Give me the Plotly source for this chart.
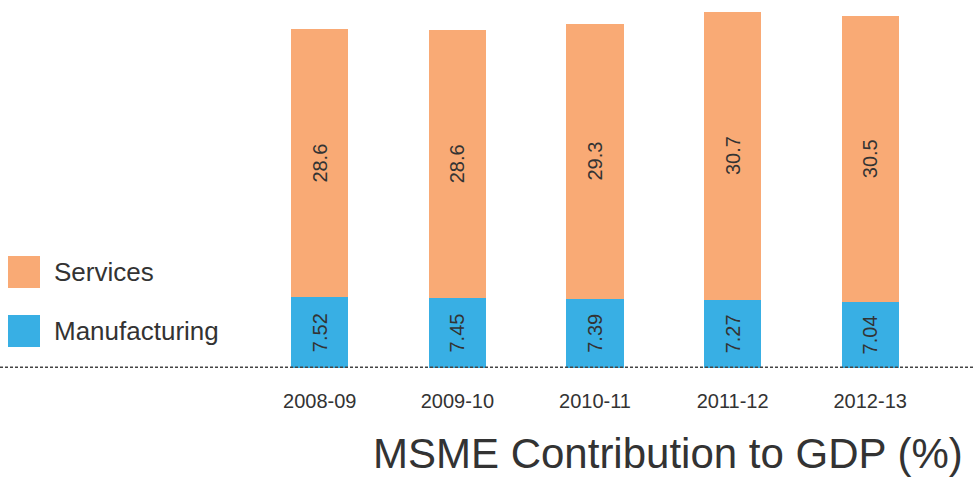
import plotly.graph_objects as go

years = ["2008-09", "2009-10", "2010-11", "2011-12", "2012-13"]
manufacturing = [7.52, 7.45, 7.39, 7.27, 7.04]
services = [28.6, 28.6, 29.3, 30.7, 30.5]

ORANGE = "#F9AA75"
BLUE = "#38AFE4"
TEXT = "#333333"
FONT = "Liberation Sans, Arial, Helvetica, sans-serif"

fig = go.Figure()
fig.add_trace(
    go.Bar(
        x=years,
        y=manufacturing,
        name="Manufacturing",
        marker=dict(color=BLUE, line=dict(width=0)),
        text=[f"{v:.2f}" for v in manufacturing],
        textposition="inside",
        insidetextanchor="middle",
        textangle=-90,
        textfont=dict(size=20, color=TEXT, family=FONT),
    )
)
fig.add_trace(
    go.Bar(
        x=years,
        y=services,
        name="Services",
        marker=dict(color=ORANGE, line=dict(width=0)),
        text=[f"{v:.1f}" for v in services],
        textposition="inside",
        insidetextanchor="middle",
        textangle=-90,
        textfont=dict(size=20, color=TEXT, family=FONT),
    )
)

W, H = 973, 479
base_px = 368  # baseline position from top

fig.update_layout(
    width=W,
    height=H,
    barmode="stack",
    bargap=0.585,
    showlegend=False,
    margin=dict(l=0, r=0, t=0, b=0),
    plot_bgcolor="white",
    paper_bgcolor="white",
    font=dict(family=FONT, color=TEXT),
    uniformtext=dict(mode="show", minsize=20),
    xaxis=dict(
        type="category",
        domain=[251 / W, 939 / W],
        showgrid=False,
        showline=False,
        ticks="",
        tickfont=dict(size=20, color=TEXT),
        ticklabelstandoff=19,
    ),
    yaxis=dict(
        domain=[(H - base_px) / H, 1],
        range=[0, 39.2],
        visible=False,
    ),
)

# dotted baseline spanning the full width
fig.add_shape(
    type="line",
    xref="paper",
    yref="y",
    x0=0,
    x1=1,
    y0=0,
    y1=0,
    line=dict(color="#444444", width=3, dash="3px,2px"),
)

# legend drawn by hand so the swatches are large
for label, color, yc in [("Services", ORANGE, 272), ("Manufacturing", BLUE, 331)]:
    fig.add_shape(
        type="rect",
        xref="paper",
        yref="paper",
        x0=8 / W,
        x1=40 / W,
        y0=(H - yc - 16) / H,
        y1=(H - yc + 16) / H,
        fillcolor=color,
        line=dict(width=0),
    )
    fig.add_annotation(
        text=label,
        xref="paper",
        yref="paper",
        x=52 / W,
        y=(H - yc) / H,
        xanchor="left",
        yanchor="middle",
        showarrow=False,
        font=dict(size=26, color=TEXT, family=FONT),
    )

fig.add_annotation(
    text="MSME Contribution to GDP (%)",
    xref="paper",
    yref="paper",
    x=964 / W,
    y=1 / H,
    xanchor="right",
    yanchor="bottom",
    showarrow=False,
    borderpad=0,
    font=dict(size=42, color=TEXT, family=FONT),
)

fig.write_html(
    "out.html",
    config={"displayModeBar": False},
    post_script="document.body.style.margin='0';document.body.style.overflow='hidden';",
)
